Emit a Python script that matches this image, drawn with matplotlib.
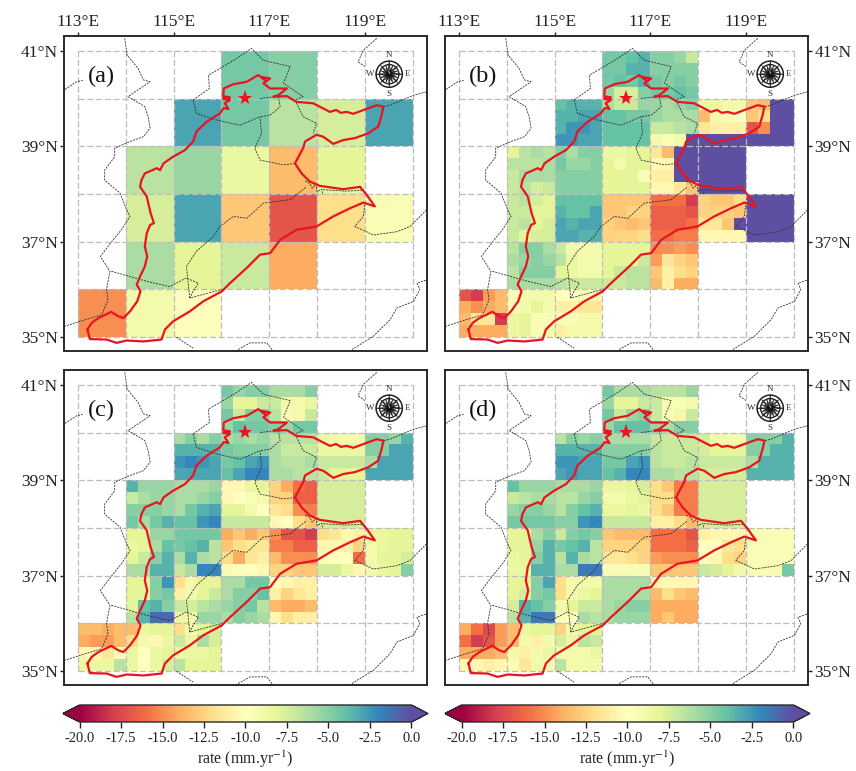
import numpy as np
import matplotlib
matplotlib.use('agg')
import matplotlib.pyplot as plt
from matplotlib.cm import ScalarMappable
from matplotlib.colors import Normalize
from matplotlib.patches import Circle, Polygon

plt.rcParams['font.family'] = ['Liberation Serif', 'DejaVu Serif']
plt.rcParams['mathtext.fontset'] = 'stix'
plt.rcParams['axes.unicode_minus'] = False

N = np.nan

# panel (a), 1 degree cells, north to south, 113E to 120E
vals_a = [
    [N, N, N, -4.5, -5, N, N],
    [N, N, -3, -4.5, -6.5, -7.5, -3],
    [N, -6.5, -5.5, -8.5, -13.5, -8, N],
    [N, -7.5, -3, -13, -17, -12, -9.5],
    [N, -6, -8, -7, -14, N, N],
    [-15, -9, -9.8, N, N, N, N],
]

# first occupied column of each 0.25 degree row
first_col = [12] * 4 + [8] * 4 + [4] * 4 + [4] * 4 + [4] * 4 + [0] * 4

# panels (b), (c), (d), 0.25 degree cells, only occupied columns
vals_b = [
    [-4.5, -4.5, -4, -3.5, -5, -5, -5.5, -7],
    [-4.5, -4.5, -3.5, -3.5, -5, -5, -5, -5],
    [-4.5, -4, -4.5, -3.5, -4.5, -5, -4.5, -5],
    [-5.5, -7.5, -7.5, -5, -4.5, -4.5, -4, -4.5],
    [-4, -3.5, -3.5, -3.5, -6, -7, -7, -5.5, -5.5, -6, -5.5, -5, -8.5, -8.5, -9, -9, -13, -13.5, 0, 0],
    [-3.5, -3.5, -3, -3, -4, -4, -4.5, -4.5, -5.5, -6, -6, -6, -13.5, -9, -9.5, -10, -13, -12, 0, 0],
    [-3.5, -2.5, -2.5, -3, -4, -4, -4, -4, -7, -7, -6.5, -6, -11.5, -11, -11, -11, -17, -15, 0, 0],
    [-2.5, -2.5, -3, -3, -4, -4, -4, -4, -9, -9.5, -9, 0, 0, 0, 0, 0, 0, 0, 0, 0],
    [-8, -6.5, -6, -6.5, -5, -6, -5, -5, -8.5, -8.5, -8, -8, -11.5, -13.5, 0, 0, 0, 0, 0, 0],
    [-6.5, -6.5, -6.5, -6, -4.5, -5.5, -5.5, -5, -8, -9, -8, -8, -10.5, -10.5, 0, 0, 0, 0, 0, 0],
    [-7, -6, -6, -6, -5, -5, -5, -5, -8, -8, -8, -9.5, -11, -11, 0, 0, 0, 0, 0, 0],
    [-7, -6.5, -7.5, -7, -5, -5, -5, -5, -8, -8, -8, -8, -10.5, -10.5, -11.5, -13, 0, 0, 0, 0],
    [-7, -6.5, -7.5, -8, -4, -4, -4, -4, -13, -13, -13, -13, -16, -16, -16, -18, -12.5, -13, -13, -12, 0, 0, 0, 0],
    [-7, -7, -8, -8, -3.5, -4, -4, -3, -13, -13, -12.5, -12.5, -16.5, -16.5, -16.5, -17, -12.5, -12.5, -12.5, -13, 0, 0, 0, 0],
    [-7, -6.5, -8, -7.5, -3, -3.5, -3, -3, -12.5, -13, -13.5, -13, -16.5, -16.5, -16.5, -16, -11.5, -11.5, -13, 0, 0, 0, 0, 0],
    [-7, -8, -7.5, -7.5, -3, -3, -3.5, -3.5, -12.5, -12.5, -12.5, -12, -16, -16, -15.5, -15.5, -10.5, -10.5, -10.5, -10.5, 0, 0, 0, 0],
    [-6.5, -5, -5, -6, -7, -9, -9, -9, -8, -8, -8, -8, -15, -15, -14.5, -15],
    [-6, -5.5, -5, -5.5, -6.5, -8.5, -9, -9, -8, -8, -8, -7, -14.5, -11.5, -12.5, -13],
    [-6.5, -5, -5, -5, -8, -8.5, -9, -9, -8, -7, -6.5, -6.5, -13, -11, -12, -12.5],
    [-6, -6, -6, -6, -6.5, -7, -7, -7, -7, -7, -6.5, -6.5, -13.5, -11, -14, -14],
    [-17, -18, -14.5, -13.5, -9.5, -9, -9, -9, -10, -10, -9.5, -9.5],
    [-14, -15, -14, -13.5, -9.5, -9, -8, -9, -11, -11, -11.5, -11.5],
    [-13.5, -11.5, -11.5, -18, -8.5, -8, -9.5, -9.5, -9.5, -9.5, -9, -9],
    [-14, -14, -14, -14, -8.5, -8, -9.5, -9, -11, -9, -9, -9],
]

vals_c = [
    [-4.5, -5.5, -5, -5, -6, -6, -6, -5],
    [-5.5, -8, -8, -7, -7, -9, -9, -8.5],
    [-4.5, -7, -5, -5, -6.5, -9.5, -9, -7],
    [-5.5, -4, -4.5, -4.5, -5, -5.5, -4.5, -4.5],
    [-6, -5, -6, -5, -6, -5.5, -6, -5.5, -6.5, -6.5, -6.5, -6.5, -8.5, -9, -9, -9, -5, -5, -5.5, -3.5],
    [-3.5, -3.5, -3.5, -3.5, -4.5, -5, -5, -5, -6, -7, -7, -7, -8.5, -8.5, -8.5, -8.5, -5, -5, -3, -3],
    [-2.5, -2, -2.5, -3, -4.5, -4, -3, -2.5, -6, -6.5, -6.5, -6, -7, -7, -7, -7, -6, -3, -3, -3],
    [-3, -3, -3, -3, -4, -3, -2, -2, -6, -6, -6.5, -6.5, -7, -8, -8, -8, -3, -3, -3, -3],
    [-3.5, -5.5, -5.5, -5.5, -6, -6, -6, -5.5, -10.5, -10.5, -8.5, -8, -12.5, -14, -16, -16.5, -7.5, -7.5, -7.5, -7.5],
    [-7, -6, -5.5, -5.5, -6, -6, -5.5, -5, -10.5, -10, -9.5, -9, -12.5, -12.5, -16.5, -16.5, -7.5, -7.5, -7.5, -7.5],
    [-5, -5, -5, -5.5, -6, -4.5, -3.5, -3, -8, -8, -9, -10, -11.5, -12, -15, -15.5, -7.5, -7.5, -7.5, -7.5],
    [-4.5, -6, -4.5, -3.5, -4, -4, -2.5, -2, -7, -7, -7, -7, -10.5, -10, -12, -13, -7.5, -7.5, -7.5, -7.5],
    [-8, -8, -5.5, -5.5, -4.5, -4.5, -4.5, -4.5, -14, -13, -14, -13, -15, -17, -17, -18, -12, -11.5, -10.5, -11, -8.5, -8.5, -8, -8],
    [-8.5, -8, -6, -4, -4.5, -4, -3.5, -6.5, -13, -12, -11.5, -11.5, -15.5, -15.5, -16.5, -16.5, -10.5, -10.5, -11, -12.5, -9, -8.5, -8, -8],
    [-8, -7, -5, -3.5, -6, -3.5, -6, -6.5, -12, -14, -11.5, -11, -13.5, -15, -15, -15, -9.5, -10, -10, -16, -9, -8, -8, -7.5],
    [-6, -6, -3.5, -3.5, -7, -6, -2, -2, -9.5, -10, -10, -10.5, -12.5, -12.5, -13, -13, -7.5, -7.5, -8.5, -10.5, -9, -8.5, -8, -5],
    [-8, -8, -5, -2.5, -12, -9, -8, -8, -6, -6, -4.5, -4.5, -10, -10.5, -11, -11],
    [-8, -8, -5, -4.5, -11, -9, -8, -7, -6, -5, -5, -4, -11, -12.5, -11.5, -11],
    [-8, -4, -3.5, -5, -7, -7.5, -6.5, -6, -5.5, -5, -4.5, -6.5, -13.5, -14, -14, -13.5],
    [-6.5, -3.5, -1, -1, -8.5, -9, -5.5, -5.5, -6, -5, -5.5, -6, -10.5, -12, -11, -11],
    [-13.5, -13.5, -14, -13.5, -13.5, -8.5, -8, -8, -12, -9, -8, -7.5],
    [-14, -14.5, -14.5, -13.5, -12, -9, -10.5, -8.5, -7, -8.5, -6, -7.5],
    [-10.5, -10.5, -11.5, -9.5, -8.5, -10, -8.5, -8, -8.5, -8.5, -8.5, -8],
    [-8.5, -8.5, -8.5, -6.5, -8.5, -10, -8.5, -7.5, -6.5, -8, -8, -8],
]

vals_d = [
    [-4.5, -6, -6, -6, -6.5, -6.5, -6.5, -5.5],
    [-5.5, -8, -8, -7, -7, -9.5, -9.5, -9],
    [-4.5, -7, -5.5, -5, -7, -9.5, -9, -7],
    [-5.5, -4, -4, -4, -5.5, -6, -5, -5],
    [-6.5, -5, -5.5, -5, -6, -6, -6, -6, -7, -7, -7, -7, -7.5, -9, -9, -9, -5, -5, -5, -3.5],
    [-3.5, -3.5, -3.5, -3.5, -5, -5, -5, -5, -6.5, -7, -7, -7, -7.5, -8, -8, -8, -5, -5, -3.5, -3.5],
    [-2.5, -2.5, -3, -3, -4.5, -4.5, -3, -2.5, -6.5, -7, -7, -6.5, -7, -7, -7, -7, -6, -3.5, -3.5, -3.5],
    [-3, -2.5, -3, -3, -4, -3.5, -2, -2, -6, -6, -6.5, -6.5, -7.5, -7.5, -7.5, -7.5, -3.5, -3.5, -3.5, -3.5],
    [-4, -5.5, -5.5, -5.5, -6, -6, -6, -5.5, -8.5, -8.5, -8, -7.5, -12, -13, -15.5, -15.5, -7.5, -7.5, -7.5, -7.5],
    [-7, -6.5, -6, -6, -6.5, -6.5, -5.5, -5, -9, -9, -8.5, -8, -12, -12, -15.5, -15.5, -7.5, -7.5, -7.5, -7.5],
    [-5.5, -5, -5, -5.5, -6.5, -5, -4, -3.5, -8.5, -8.5, -8, -8.5, -12, -13, -15.5, -15.5, -7.5, -7.5, -7.5, -7.5],
    [-4.5, -4.5, -4.5, -4.5, -5, -5, -2.5, -2, -7, -7, -7, -7, -11, -11, -12, -13.5, -7.5, -7.5, -7.5, -7.5],
    [-8, -8, -6, -5, -7, -5, -4.5, -5, -13, -13.5, -13.5, -13.5, -16, -16, -16, -17, -11, -10.5, -10.5, -10.5, -9.5, -9.5, -9.5, -9.5],
    [-8, -8, -5.5, -3.5, -4.5, -4, -3.5, -6.5, -12.5, -12.5, -12.5, -12.5, -16, -16, -16, -16.5, -10, -10, -11.5, -12, -9.5, -9.5, -9.5, -9.5],
    [-8.5, -8, -5, -3.5, -6.5, -3.5, -6, -6.5, -11.5, -11.5, -12, -12.5, -14.5, -15, -15, -15, -9.5, -10.5, -12, -12.5, -9.5, -9.5, -9.5, -9.5],
    [-8.5, -8.5, -3.5, -3.5, -6, -6, -1.5, -1.5, -9.5, -9.5, -9.5, -9.5, -13, -13, -13, -13, -7, -7.5, -8, -9, -9.5, -9.5, -9.5, -4.5],
    [-8, -8, -5, -3, -12, -9, -9, -9, -6, -6, -6, -6, -10.5, -10.5, -10.5, -10.5],
    [-8, -7.5, -5, -4.5, -12, -9, -8.5, -8, -6, -6, -6, -6, -13.5, -12, -13, -13.5],
    [-7.5, -3.5, -4, -5, -9, -8, -7, -7, -6, -5.5, -5, -5, -14, -14, -14, -14],
    [-6.5, -3.5, -1.5, -1.5, -9.5, -10, -6, -6.5, -6, -5.5, -5.5, -5.5, -14, -13, -14, -14],
    [-14, -16, -17.5, -14.5, -13.5, -8.5, -8, -8, -12.5, -9, -8, -8],
    [-16, -18, -17, -14.5, -13.5, -9, -11, -9, -7.5, -8.5, -6.5, -7],
    [-14, -14, -14, -13.5, -9, -11, -9, -8.5, -9, -9, -9, -8.5],
    [-10.5, -10.5, -11, -10.5, -9.5, -11.5, -9, -9, -6.5, -9, -9, -9],
]

# plain boundary (lon, lat)
plain_lon = [113.20, 113.29, 113.43, 113.70, 113.84, 113.95, 114.09, 114.24, 114.31, 114.23, 114.30, 114.40,
             114.45, 114.40, 114.44, 114.51, 114.59, 114.52, 114.44, 114.30, 114.33, 114.40, 114.65, 114.72, 114.79,
             114.99, 115.24, 115.41, 115.48, 115.69, 115.97, 116.05, 116.15, 116.07, 116.18, 116.04, 116.18, 116.10,
             116.04, 116.05, 116.25, 116.53,
             116.77, 116.91, 116.84, 117.02, 116.88, 117.02, 117.37, 117.19, 117.09, 117.37, 117.57, 117.92, 118.27,
             118.40, 118.50, 118.62, 118.76, 119.00, 119.25, 119.39, 119.35, 119.28, 119.07, 118.79, 118.55, 118.34,
             118.13, 117.99, 117.75, 117.71, 117.54, 117.68, 117.85, 118.06, 118.55, 118.90, 119.04, 119.21, 118.97,
             118.69, 118.34, 117.99, 117.57, 117.23, 117.02, 116.81, 116.53, 116.18, 116.01, 115.62, 115.34,
             114.99, 114.82, 114.75, 114.37, 114.02, 113.81, 113.60, 113.25, 113.20]
plain_lat = [35.16, 35.30, 35.40, 35.53, 35.44, 35.40, 35.54, 35.75, 35.96, 36.10, 36.27, 36.48,
             36.69, 36.90, 37.18, 37.35, 37.39, 37.60, 37.95, 38.15, 38.29, 38.43, 38.54, 38.50, 38.64,
             38.78, 38.92, 39.10, 39.31, 39.51, 39.69, 39.80, 39.78, 39.90, 39.97, 39.99, 40.02, 40.04,
             40.04, 40.21, 40.30, 40.35,
             40.49, 40.39, 40.45, 40.42, 40.32, 40.21, 40.21, 40.07, 40.04, 40.05, 39.93, 39.90, 39.72,
             39.76, 39.70, 39.72, 39.68, 39.77, 39.86, 39.83, 39.65, 39.41, 39.27, 39.17, 39.13, 39.05,
             39.20, 39.24, 39.10, 38.96, 38.64, 38.43, 38.26, 38.17, 38.10, 38.15, 37.98, 37.74, 37.82,
             37.70, 37.53, 37.32, 37.25, 37.04, 36.76, 36.73, 36.45, 36.13, 35.96, 35.75, 35.54,
             35.33, 35.16, 34.95, 34.91, 34.93, 34.88, 34.95, 34.96, 35.16]

# province borders, one (lons, lats) pair per line
borders = [
    ([113.98, 114.03, 114.26, 114.37, 114.51, 114.30, 114.05, 114.40, 114.47, 114.51, 114.37, 114.09, 113.77,
      113.77, 113.56, 113.56, 113.88, 114.02, 114.09, 113.91, 113.74, 113.47, 113.67, 113.60, 113.63, 113.50,
      113.04, 112.73],
     [41.26, 40.91, 40.63, 40.39, 40.35, 40.21, 40.04, 39.83, 39.62, 39.38, 39.20, 39.10, 38.96,
      38.78, 38.50, 38.29, 38.02, 37.67, 37.53, 37.25, 37.04, 36.69, 36.38, 36.00, 35.78, 35.47,
      35.33, 35.23]),
    ([112.73, 112.97, 113.10], [40.19, 40.35, 40.38]),
    ([113.70, 114.09, 114.44, 114.92, 115.27, 115.52, 115.41, 115.34, 116.01],
     [36.38, 36.27, 36.17, 36.06, 36.24, 36.13, 35.96, 35.82, 36.00]),
    ([115.34, 115.27, 115.48, 115.83, 115.97, 116.25, 116.53, 116.88, 117.44, 117.78],
     [35.82, 36.48, 36.80, 37.11, 37.32, 37.53, 37.49, 37.81, 37.88, 38.15]),
    ([115.41, 115.48, 115.90, 116.39, 116.81, 116.84, 116.70, 116.81, 117.30, 117.54],
     [39.97, 39.69, 39.55, 39.44, 39.62, 39.27, 38.96, 38.71, 38.61, 38.64]),
    ([115.41, 115.75, 115.73, 115.97, 116.32, 116.63, 116.88, 117.44, 117.30, 117.71, 117.54, 117.71, 117.99, 117.92],
     [39.97, 40.21, 40.49, 40.63, 40.84, 41.05, 40.80, 40.67, 40.32, 40.04, 39.97, 39.62, 39.48, 39.27]),
    ([116.81, 117.19, 117.23, 117.02, 116.81], [40.00, 40.05, 39.83, 39.65, 39.62]),
    ([119.25, 118.97, 118.86, 119.00], [41.26, 41.01, 40.77, 40.67]),
    ([120.29, 120.02, 119.53, 119.39], [40.14, 40.07, 39.86, 39.83]),
    ([120.29, 119.95, 119.67, 119.18, 118.79, 118.97, 119.00], [37.67, 37.32, 37.21, 37.14, 37.32, 37.53, 37.81]),
    ([118.73, 119.18, 119.53, 119.67, 120.02, 120.15, 120.09, 120.29], [34.74, 35.02, 35.37, 35.61, 35.75, 36.00, 36.13, 36.20]),
    ([116.35, 116.60, 116.95, 117.09], [34.74, 34.88, 34.88, 34.70]),
    ([115.06, 115.41], [35.00, 34.77]),
    ([117.75, 117.85, 117.90, 117.98, 118.00, 118.10, 118.12], [38.27, 38.22, 38.12, 38.20, 38.05, 38.10, 37.98]),
    ([118.13, 118.60, 118.97], [38.09, 38.06, 38.08]),
]

star_lon, star_lat = 116.49, 40.02
lon_ticks = [113, 115, 117, 119]
lat_ticks = [41, 39, 37, 35]
cbar_ticks = [-20.0, -17.5, -15.0, -12.5, -10.0, -7.5, -5.0, -2.5, 0.0]


def fill_grid(rows):
    # lay the occupied columns out on the full 28 x 24 grid
    grid = np.full((24, 28), np.nan)
    for i, row in enumerate(rows):
        grid[i, first_col[i]:first_col[i] + len(row)] = row
    return grid


def draw_compass(ax, x0, y0, r):
    ax.add_patch(Circle((x0, y0), r * 0.98, fc='white', ec='#222222', lw=1.1, zorder=6))
    ax.add_patch(Circle((x0, y0), r * 0.72, fc='none', ec='#222222', lw=1.0, zorder=6))
    for i in range(16):
        ang = i * np.pi / 8
        length = r if i % 4 == 0 else (r * 0.9 if i % 2 == 0 else r * 0.66)
        tip = (x0 + length * np.sin(ang), y0 + length * np.cos(ang))
        w = 0.12 * r
        left = (x0 + w * np.sin(ang - np.pi / 2), y0 + w * np.cos(ang - np.pi / 2))
        right = (x0 + w * np.sin(ang + np.pi / 2), y0 + w * np.cos(ang + np.pi / 2))
        ax.add_patch(Polygon([left, tip, (x0, y0)], fc='#111111', ec='#111111', lw=0.3, zorder=7))
        ax.add_patch(Polygon([right, tip, (x0, y0)], fc='#c8c8c8', ec='#111111', lw=0.3, zorder=7))
    for s, dx, dy in [('N', 0, 0.40), ('S', 0, -0.42), ('W', -0.40, 0), ('E', 0.39, 0)]:
        ax.text(x0 + dx, y0 + dy, s, fontsize=6.5, color='#333333', ha='center', va='center', zorder=7)


def draw_panel(box, grid, lon_edges, lat_edges, letter, top_labels, right_labels):
    ax = fig.add_axes([box[0] / 856, 1 - box[3] / 771, (box[1] - box[0]) / 856, (box[3] - box[2]) / 771])
    ax.pcolormesh(lon_edges, lat_edges, grid, cmap='Spectral', vmin=-20, vmax=0, zorder=1)
    ax.vlines(np.arange(113, 121), 35, 41, color='#bdbdbd', lw=0.9, linestyles=(0, (5, 2)), zorder=2)
    ax.hlines(np.arange(35, 42), 113, 120, color='#bdbdbd', lw=0.9, linestyles=(0, (5, 2)), zorder=2)
    for blon, blat in borders:
        ax.plot(blon, blat, color='#333333', lw=0.6, ls=(0, (2.5, 1.2)), zorder=3)
    ax.plot(plain_lon, plain_lat, color='#e8141f', lw=1.6, zorder=4)
    ax.plot(star_lon, star_lat, marker='*', color='#e8141f', ms=11, mew=0, zorder=5)
    draw_compass(ax, 119.51, 40.51, 0.28)
    ax.text(113.5, 40.46, letter, fontsize=17.5, ha='center', va='center', color='#111111', zorder=6)

    ax.set_xlim(112.71, 120.30)
    ax.set_ylim(34.71, 41.31)
    ax.set_xticks(lon_ticks)
    ax.set_yticks(lat_ticks)
    ax.set_xticklabels([f'{t}°E' for t in lon_ticks])
    ax.set_yticklabels([f'{t}°N' for t in lat_ticks])
    ax.tick_params(axis='both', direction='out', length=3, width=1.0, labelsize=12.5, color='#222222',
                   labelcolor='#222222', pad=1.5, bottom=False, labelbottom=False, top=top_labels, labeltop=top_labels,
                   left=not right_labels, labelleft=not right_labels, right=right_labels, labelright=right_labels)
    for sp in ax.spines.values():
        sp.set_linewidth(1.4)
        sp.set_color('#2a2a2a')
    return ax


def draw_cbar(x0, x1):
    # the axes runs from tip to tip, the colorbar makes room for its arrows inside it
    cax = fig.add_axes([x0 / 856, 1 - 722 / 771, (x1 - x0) / 856, 17 / 771])
    sm = ScalarMappable(norm=Normalize(-20, 0), cmap='Spectral')
    cb = fig.colorbar(sm, cax=cax, orientation='horizontal', extend='both', extendfrac=0.05, ticks=cbar_ticks)
    cb.ax.set_xticklabels([f'{t:.1f}' for t in cbar_ticks])
    cb.ax.tick_params(labelsize=10.5, length=4, width=1.0, color='#222222', labelcolor='#222222', pad=3)
    cb.outline.set_linewidth(1.0)
    cb.outline.set_edgecolor('#2a2a2a')
    cb.set_label('rate (mm.yr$^{-1}$)', fontsize=11.5, color='#222222', labelpad=3)


fig = plt.figure(figsize=(8.56, 7.71), dpi=100)

lon_1deg = np.arange(113, 121)
lat_1deg = np.arange(41, 34, -1)
lon_sub = np.linspace(113, 120, 29)
lat_sub = np.linspace(41, 35, 25)

draw_panel((64, 427, 36, 351), np.array(vals_a), lon_1deg, lat_1deg, '(a)', True, False)
draw_panel((445, 808, 36, 351), fill_grid(vals_b), lon_sub, lat_sub, '(b)', True, True)
draw_panel((64, 427, 370, 685), fill_grid(vals_c), lon_sub, lat_sub, '(c)', False, False)
draw_panel((445, 808, 370, 685), fill_grid(vals_d), lon_sub, lat_sub, '(d)', False, True)

draw_cbar(63, 428)
draw_cbar(445, 810)

plt.savefig('out.png', dpi=100)
